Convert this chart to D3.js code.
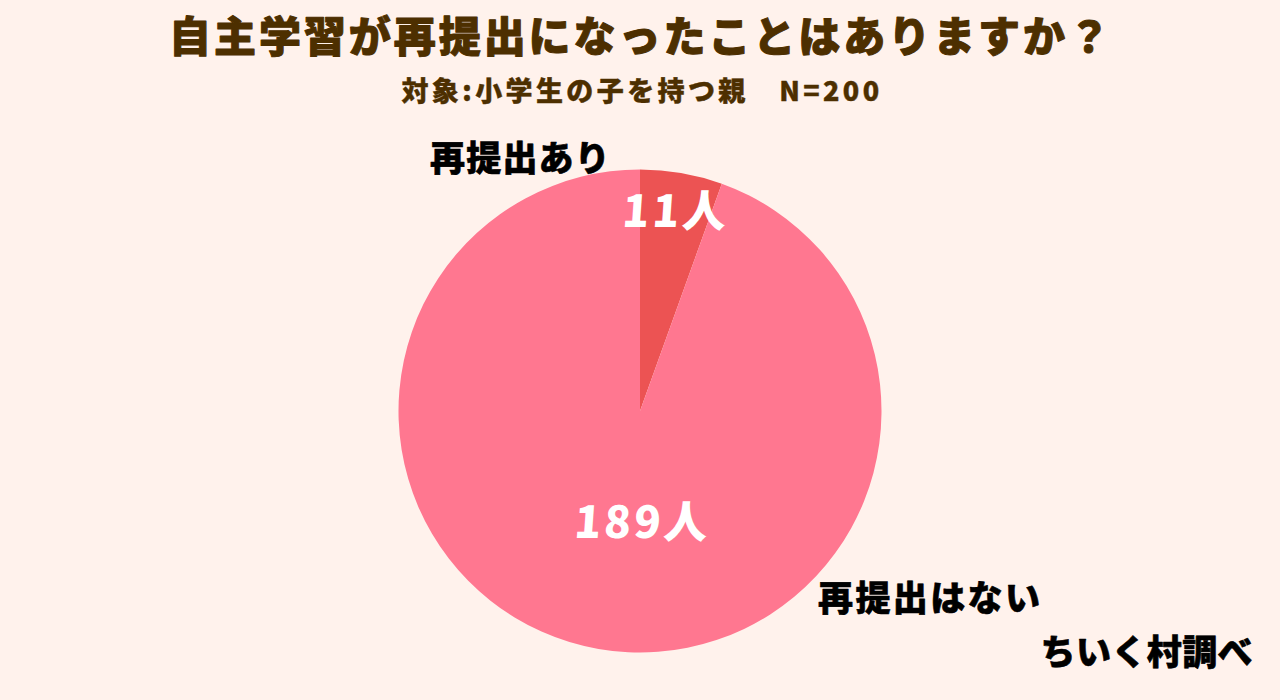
<!DOCTYPE html>
<html>
<head>
<meta charset="utf-8">
<script src="https://cdn.jsdelivr.net/npm/d3@7"></script>
<style>
html, body { margin: 0; padding: 0; background: #fff2ec; }
svg { display: block; }
text { font-family: "Noto Sans CJK JP", sans-serif; stroke-linejoin: round; }
</style>
</head>
<body>
<div id="chart"></div>
<script>
var categories = ['再提出あり', '再提出はない']
var counts = [11, 189]
var valueLabels = ['11人', '189人']
var colors = ['#ec5353', '#ff7790']

var width = 1280
var height = 700

var svg = d3.select('#chart').append('svg')
    .attr('width', width)
    .attr('height', height)

svg.append('rect').attr('width', width).attr('height', height).attr('fill', '#fff2ec')

// Titles
svg.append('text')
    .attr('x', 641).attr('y', 52)
    .attr('text-anchor', 'middle')
    .attr('font-size', 42).attr('font-weight', 900)
    .attr('letter-spacing', 2.95)
    .attr('fill', '#4d2f00').attr('stroke', '#4d2f00').attr('stroke-width', 1)
    .text('自主学習が再提出になったことはありますか？')

svg.append('text')
    .attr('x', 642).attr('y', 101)
    .attr('text-anchor', 'middle')
    .attr('font-size', 27).attr('font-weight', 900)
    .attr('letter-spacing', 3.4)
    .attr('fill', '#4d2f00').attr('stroke', '#4d2f00').attr('stroke-width', 0.4)
    .text('対象:小学生の子を持つ親　N=200')

// Pie
var radius = 241.5
var pie = d3.pie().sort(null)
var arc = d3.arc().innerRadius(0).outerRadius(radius)

var g = svg.append('g').attr('transform', 'translate(640,411)')
var arcs = pie(counts)

g.selectAll('path')
    .data(arcs)
    .enter()
    .append('path')
    .attr('d', arc)
    .attr('fill', function(d, i){ return colors[i] })

// Value labels sit on each slice's mid angle
var labelRadius = [203, 113]
var labelShift = [0, 21]
g.selectAll('.value')
    .data(arcs)
    .enter()
    .append('text')
    .attr('class', 'value')
    .attr('transform', function(d, i){
        var r = labelRadius[i]
        var p = d3.arc().innerRadius(r).outerRadius(r).centroid(d)
        return 'translate(' + (p[0] + labelShift[i]) + ',' + (p[1] + 16) + ') skewX(-4)'
    })
    .attr('text-anchor', 'middle')
    .attr('font-size', 44).attr('font-weight', 900)
    .attr('letter-spacing', 3)
    .attr('fill', '#ffffff')
    .text(function(d, i){ return valueLabels[i] })

// Category labels
var catPos = [[430, 171], [818, 611]]
var catSpacing = [1.2, 2.4]
svg.selectAll('.cat')
    .data(categories)
    .enter()
    .append('text')
    .attr('class', 'cat')
    .attr('x', function(d, i){ return catPos[i][0] })
    .attr('y', function(d, i){ return catPos[i][1] })
    .attr('font-size', 35).attr('font-weight', 900)
    .attr('letter-spacing', function(d, i){ return catSpacing[i] })
    .attr('fill', '#000000').attr('stroke', '#000000').attr('stroke-width', 0.6)
    .text(function(d){ return d })

svg.append('text')
    .attr('x', 1253).attr('y', 665)
    .attr('text-anchor', 'end')
    .attr('font-size', 35).attr('font-weight', 900)
    .attr('letter-spacing', 0.4)
    .attr('fill', '#000000').attr('stroke', '#000000').attr('stroke-width', 0.6)
    .text('ちいく村調べ')
</script>
</body>
</html>
